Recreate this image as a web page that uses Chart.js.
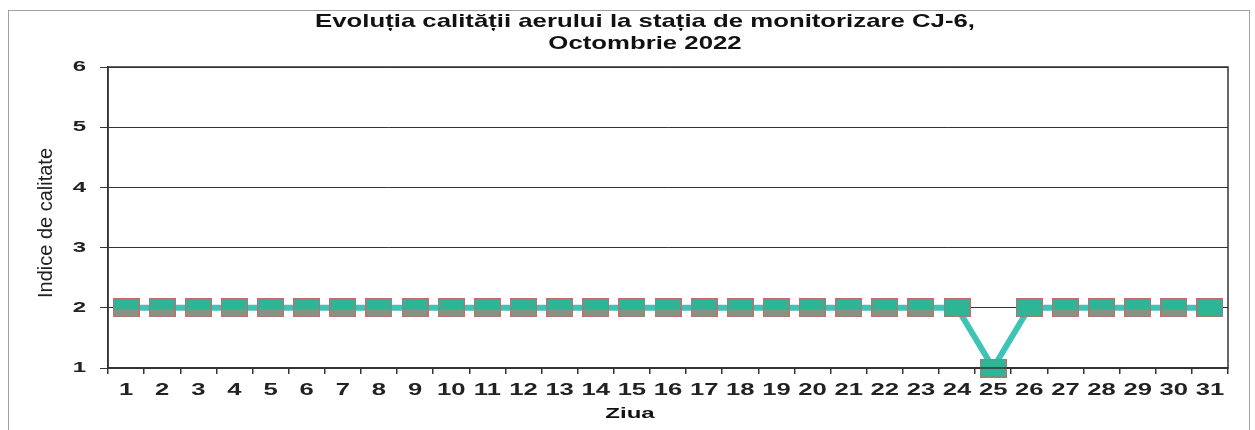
<!DOCTYPE html>
<html>
<head>
<meta charset="utf-8">
<script src="https://cdn.jsdelivr.net/npm/chart.js@4"></script>
<style>
  html, body { margin: 0; padding: 0; background: #fff; }
  #wrap { width: 1255px; height: 430px; position: relative; }
</style>
</head>
<body>
<div id="wrap"><canvas id="c"></canvas></div>
<script>
// date grafic
const zile = ['1', '2', '3', '4', '5', '6', '7', '8', '9', '10', '11', '12', '13', '14', '15', '16',
              '17', '18', '19', '20', '21', '22', '23', '24', '25', '26', '27', '28', '29', '30', '31'];
const indice = [2, 2, 2, 2, 2, 2, 2, 2, 2, 2, 2, 2, 2, 2, 2, 2, 2, 2, 2, 2, 2, 2, 2, 2, 1, 2, 2, 2, 2, 2, 2];
const valoriY = [1, 2, 3, 4, 5, 6];
const titlu = ['Evoluția calității aerului la stația de monitorizare CJ-6,', 'Octombrie 2022'];
const titluY = 'Indice de calitate';
const titluX = 'Ziua';

const FONT = '"Liberation Sans", Arial, sans-serif';
const SX = 1.6; // scanarea e intinsa pe orizontala

// marker dreptunghiular (ca in Excel)
function makeMarker(plain) {
    const c = document.createElement('canvas');
    c.width = 27; c.height = 19;
    const g = c.getContext('2d');
    g.fillStyle = '#2db596';
    g.fillRect(0, 0, 27, 19);
    if (!plain) {
        g.fillStyle = '#849482';
        g.fillRect(1, 11, 25, 8);
    }
    g.strokeStyle = '#c66a6a';
    g.lineWidth = 1;
    g.strokeRect(0.5, 0.5, 26, 18);
    return c;
}
const mk = makeMarker(false);
const mkPlain = makeMarker(true);
const stiluri = indice.map((v, i) => ([23, 24, 25, 30].includes(i) ? mkPlain : mk));

// text intins pe orizontala
function scrie(ctx, text, x, y, font, sx, align) {
    ctx.save();
    ctx.font = font;
    ctx.textAlign = align || 'center';
    ctx.textBaseline = 'middle';
    ctx.translate(x, y);
    ctx.scale(sx, 1);
    ctx.fillText(text, 0, 0);
    ctx.restore();
}

const decor = {
    id: 'decor',
    beforeDraw(chart) {
        const ctx = chart.ctx;
        ctx.save();
        ctx.fillStyle = '#fff';
        ctx.fillRect(0, 0, chart.width, chart.height);
        ctx.strokeStyle = '#a0a0a0';
        ctx.lineWidth = 1;
        ctx.strokeRect(8.5, 10.5, 1241, 440);
        ctx.restore();
    },
    afterDraw(chart) {
        const ctx = chart.ctx;
        const a = chart.chartArea;
        const sx = chart.scales.x, sy = chart.scales.y;
        ctx.save();
        ctx.strokeStyle = '#333';
        ctx.lineWidth = 1.5;
        ctx.strokeRect(a.left, a.top, a.right - a.left, a.bottom - a.top);

        // titlu: latime ~660px pe orizontala
        ctx.fillStyle = '#111';
        const fTitlu = 'bold 19px ' + FONT;
        ctx.font = fTitlu;
        const kT = 660 / ctx.measureText(titlu[0]).width;
        scrie(ctx, titlu[0], 645, 22, fTitlu, kT);
        scrie(ctx, titlu[1], 645, 44, fTitlu, kT);

        ctx.fillStyle = '#222';
        zile.forEach((z, i) => {
            scrie(ctx, z, sx.getPixelForTick(i), 391, 'bold 16px ' + FONT, SX);
        });
        valoriY.forEach(v => {
            scrie(ctx, String(v), 86, sy.getPixelForValue(v), 'bold 15px ' + FONT, SX, 'right');
        });

        ctx.fillStyle = '#111';
        scrie(ctx, titluX, 630, 414, 'bold 15px ' + FONT, SX);

        // titlul axei Y, rotit
        ctx.translate(46, 223);
        ctx.rotate(-Math.PI / 2);
        ctx.font = '14px ' + FONT;
        const w = ctx.measureText(titluY).width;
        ctx.scale(150 / w, 1.5);
        ctx.textAlign = 'center';
        ctx.textBaseline = 'middle';
        ctx.fillStyle = '#222';
        ctx.fillText(titluY, 0, 0);
        ctx.restore();
    }
};

new Chart(document.getElementById('c'), {
    type: 'line',
    data: {
        labels: zile,
        datasets: [{
            data: indice,
            borderColor: '#3ec3b6',
            borderWidth: 6,
            pointStyle: stiluri,
            pointRadius: 13,
            pointHoverRadius: 13,
            tension: 0,
            clip: false
        }]
    },
    options: {
        responsive: true,
        maintainAspectRatio: false,
        animation: false,
        layout: { padding: { left: 0, top: 67, right: 27, bottom: 0 } },
        plugins: {
            legend: { display: false },
            tooltip: { enabled: false },
            title: { display: false }
        },
        scales: {
            x: {
                offset: true,
                afterFit: s => { s.height = 62; },
                grid: { offset: true, drawOnChartArea: false, tickLength: 6, color: '#333', lineWidth: 1.5 },
                border: { display: true, color: '#333', width: 1.5 },
                ticks: { display: false, autoSkip: false }
            },
            y: {
                min: 1,
                max: 6,
                afterFit: s => { s.width = 108; },
                grid: { color: '#333', lineWidth: 1, tickLength: 8 },
                border: { display: true, color: '#333', width: 1.5 },
                ticks: { display: false, stepSize: 1 }
            }
        }
    },
    plugins: [decor]
});
</script>
</body>
</html>
